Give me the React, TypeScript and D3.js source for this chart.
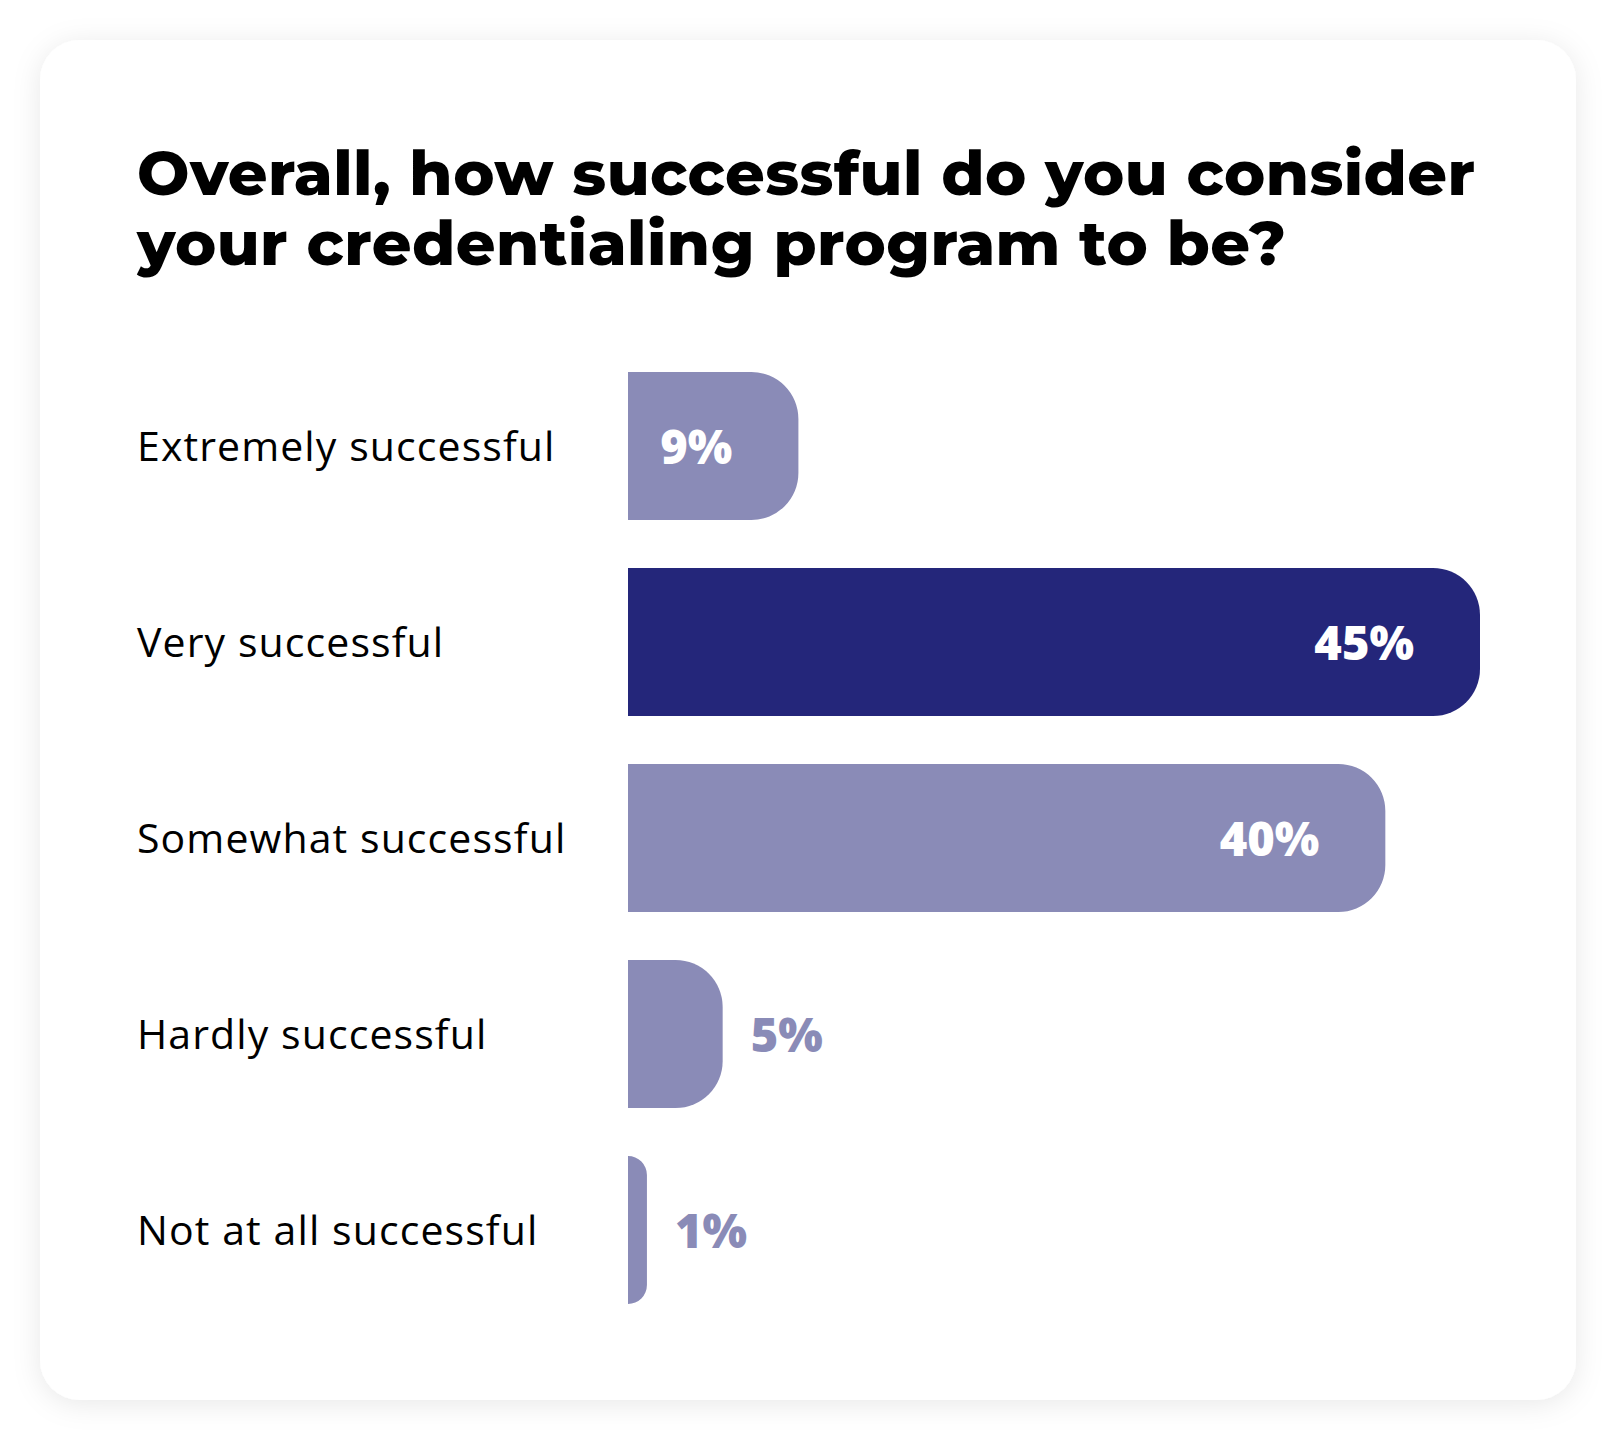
import * as React from 'react'
import * as d3 from 'd3'

const titleLines = ['Overall, how successful do you consider', 'your credentialing program to be?']
const categories = ['Extremely successful', 'Very successful', 'Somewhat successful', 'Hardly successful', 'Not at all successful']
const values = [9, 45, 40, 5, 1]
const highlighted = ['Very successful']

const W = 1616
const H = 1440
const card = { x: 40, y: 40, w: 1536, h: 1360, r: 40 }
const LIGHT = '#8a8bb7'
const DARK = '#24267a'

function barPath(x0: number, y0: number, w: number, h: number, r: number): string {
    const rr = Math.min(r, w, h / 2)
    const p = d3.path()
    p.moveTo(x0, y0)
    p.lineTo(x0 + w - rr, y0)
    p.arcTo(x0 + w, y0, x0 + w, y0 + rr, rr)
    p.lineTo(x0 + w, y0 + h - rr)
    p.arcTo(x0 + w, y0 + h, x0 + w - rr, y0 + h, rr)
    p.lineTo(x0, y0 + h)
    p.closePath()
    return p.toString()
}

export default function App() {
    const x = d3.scaleLinear().domain([0, 45]).range([628, 1480])
    const y = d3.scaleBand<string>().domain(categories).range([372, 1304]).paddingInner(0.245)
    const bw = y.bandwidth()

    return (
        <svg width={W} height={H} viewBox={`0 0 ${W} ${H}`}
            style={{ position: 'absolute', left: 0, top: 0, background: '#fff' }}>
            <defs>
                <filter id='shadow' x='-10%' y='-10%' width='120%' height='120%'>
                    <feDropShadow dx='0' dy='4' stdDeviation='14' floodColor='#000' floodOpacity='0.09' />
                </filter>
            </defs>
            <rect x={card.x} y={card.y} width={card.w} height={card.h} rx={card.r} fill='#fff' filter='url(#shadow)' />

            {/* title */}
            <g fontFamily='Montserrat, "Open Sans", sans-serif' fontWeight={800} fontSize={62} fill='#000'>
                {titleLines.map((t, i) => (
                    <text key={t} x={137} y={195 + i * 70}
                        textLength={i === 0 ? 1338 : 1149} lengthAdjust='spacing'>{t}</text>
                ))}
            </g>

            {/* bars */}
            {categories.map((c, i) => {
                const v = values[i]
                const y0 = y(c) as number
                const w = x(v) - x(0)
                const isHi = highlighted.includes(c)
                const inside = w > 120
                const cy = y0 + bw / 2
                return (
                    <g key={c}>
                        <text x={137} y={cy + 15} fontFamily='"Open Sans", sans-serif' fontSize={41}
                            letterSpacing={1.1} fill='#000'>{c}</text>
                        <path d={barPath(x(0), y0, w, bw, 47)} fill={isHi ? DARK : LIGHT} />
                        <text x={inside ? x(v) - 66 : x(v) + 28} y={cy + 18}
                            textAnchor={inside ? 'end' : 'start'}
                            fontFamily='"Open Sans", sans-serif' fontWeight={800} fontSize={47}
                            fill={inside ? '#fff' : LIGHT}>{`${v}%`}</text>
                    </g>
                )
            })}
        </svg>
    )
}
